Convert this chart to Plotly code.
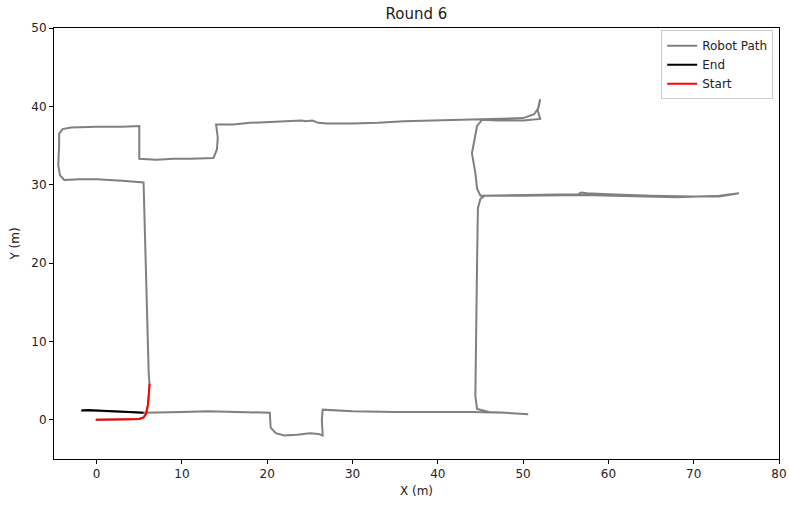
import plotly.graph_objects as go

# Robot path waypoints (metres), in travel order
path_x = [-0.1, 1, 2, 3, 4, 5, 5.5, 5.8, 6.0, 6.1, 6.2,
          6.1, 6.0, 5.9, 5.8, 5.7, 5.6, 5.5,
          3, 0, -2, -3.8, -4.3, -4.5, -4.4, -4.4, -4.0, -3, 0, 3, 5,
          5.0, 5.0,
          7, 9, 11, 13.7,
          14.1, 14.2, 14.0,
          16, 18, 20, 22, 24, 24.5, 25.3, 26, 27, 30, 33, 36, 40, 44.5, 48, 50, 51.3, 51.8, 52.0,
          51.7, 52.0, 50, 47, 45.2,
          44.6, 44.3, 44.0, 44.4, 44.6, 45.0,
          50, 56.5, 56.8, 57.5, 60, 65, 70, 73, 75.3,
          73, 68, 63, 57, 50, 45.5,
          45.0, 44.7, 44.6, 44.5, 44.4, 44.6,
          46, 48, 50.6,
          48, 44, 40, 35, 30, 27, 26.5,
          26.4, 26.5, 26.0, 25, 23.5, 22, 21, 20.4,
          20.3,
          17, 13, 10, 7, 5.5,
          4, 2, 0, -1, -1.8]
path_y = [0.0, 0.0, 0.02, 0.05, 0.08, 0.1, 0.3, 0.8, 1.8, 3.0, 4.6,
          6, 10, 15, 20.5, 25, 28, 30.3,
          30.5, 30.7, 30.7, 30.6, 31.2, 32.5, 35, 36.5, 37.1, 37.3, 37.4, 37.4, 37.5,
          35, 33.3,
          33.2, 33.3, 33.3, 33.4,
          34.5, 36, 37.7,
          37.7, 37.9, 38.0, 38.1, 38.2, 38.1, 38.2, 37.9, 37.8, 37.8, 37.9, 38.1, 38.2, 38.3, 38.4, 38.5, 39.0, 39.8, 40.9,
          39.5, 38.4, 38.2, 38.2, 38.3,
          37.5, 35.5, 34.0, 31.5, 29.5, 28.6,
          28.7, 28.8, 29.0, 28.9, 28.8, 28.6, 28.5, 28.5, 28.9,
          28.6, 28.4, 28.5, 28.7, 28.6, 28.6,
          28.2, 27, 20, 10, 3, 1.4,
          1.0, 0.9, 0.7,
          0.9, 1.0, 1.0, 1.0, 1.1, 1.3, 1.3,
          0, -2.0, -1.8, -1.7, -1.9, -2.0, -1.7, -1.0,
          0.9,
          1.0, 1.1, 1.0, 0.9, 0.9,
          1.0, 1.1, 1.2, 1.25, 1.2]

n_start = 11   # first waypoints highlighted as start
n_end = 6      # last waypoints highlighted as end

x_ticks = [0, 10, 20, 30, 40, 50, 60, 70, 80]
y_ticks = [0, 10, 20, 30, 40, 50]

fig = go.Figure()
fig.add_trace(go.Scatter(x=path_x, y=path_y, mode="lines", name="Robot Path",
                         line=dict(color="#808080", width=2)))
fig.add_trace(go.Scatter(x=path_x[-n_end:], y=path_y[-n_end:], mode="lines", name="End",
                         line=dict(color="black", width=2)))
fig.add_trace(go.Scatter(x=path_x[:n_start], y=path_y[:n_start], mode="lines", name="Start",
                         line=dict(color="red", width=2)))

axis_common = dict(showgrid=False, zeroline=False, showline=True, linecolor="black",
                   linewidth=1, mirror=True, ticks="outside", ticklen=4, tickcolor="black",
                   tickfont=dict(size=12, color="#222222"), automargin=False)
fig.update_layout(
    width=789, height=505,
    margin=dict(l=54, r=10, t=28, b=46),
    paper_bgcolor="white", plot_bgcolor="white",
    font=dict(family="DejaVu Sans", color="#222222", size=12),
    title=dict(text="Round 6", x=0.5, xref="paper", xanchor="center", y=0.972, yanchor="middle",
               font=dict(size=15)),
    xaxis=dict(range=[-5, 80], tickvals=x_ticks,
               title=dict(text="X (m)", font=dict(size=12), standoff=6), **axis_common),
    yaxis=dict(range=[-5, 50], tickvals=y_ticks,
               title=dict(text="Y (m)", font=dict(size=12), standoff=9), **axis_common),
    legend=dict(x=0.992, y=0.995, xanchor="right", yanchor="top", bgcolor="white",
                bordercolor="#cccccc", borderwidth=1, font=dict(size=12),
                tracegroupgap=0),
    showlegend=True,
)
fig.write_html("out.html")
